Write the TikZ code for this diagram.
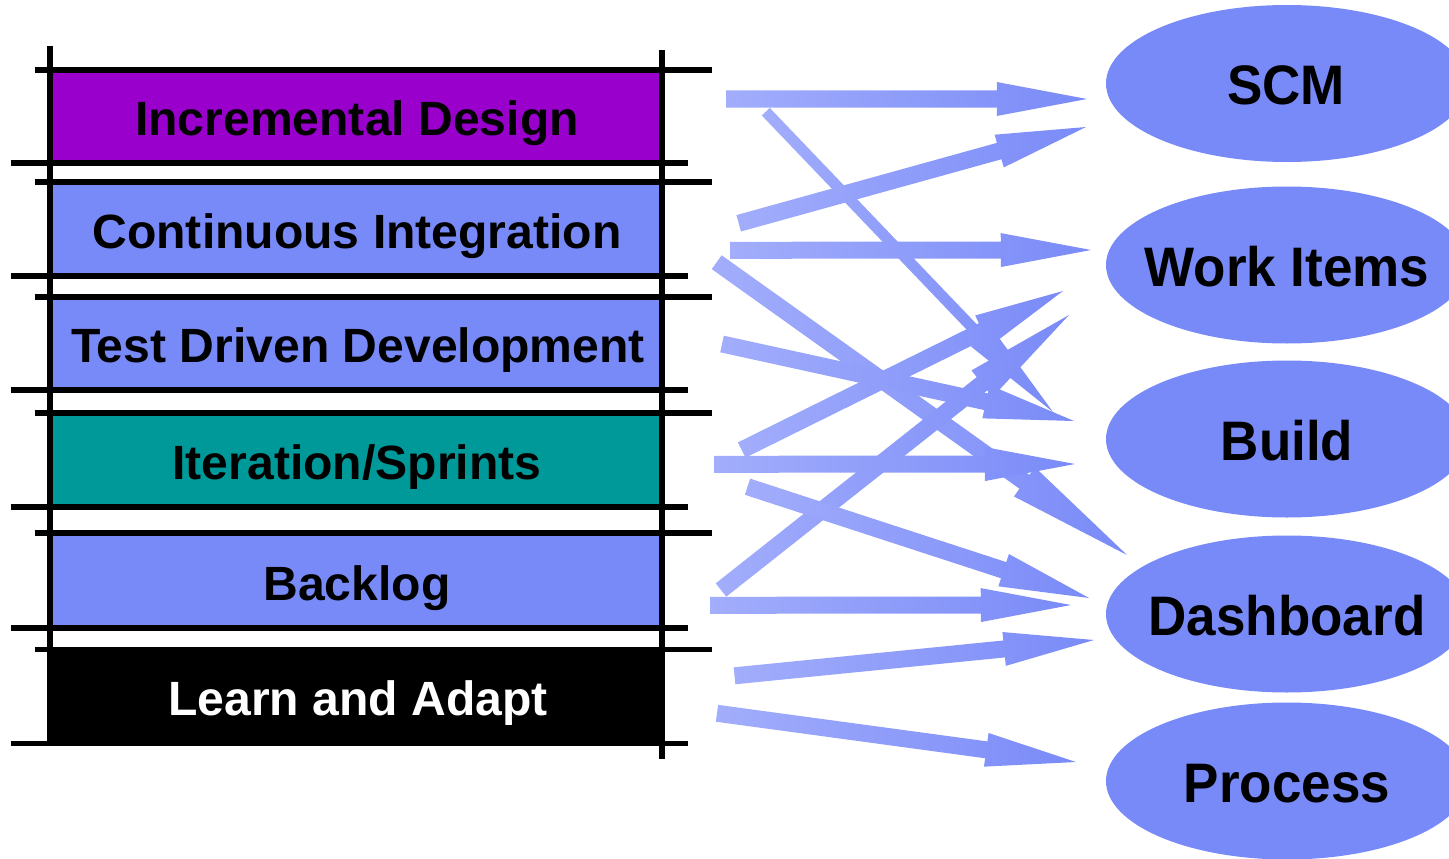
\documentclass[tikz,border=0pt]{standalone}
\usepackage{fontspec}
\usepackage{graphicx}
\setmainfont{Liberation Sans}
\usetikzlibrary{calc,shapes.geometric}
\definecolor{boxblue}{RGB}{120,138,248}
\definecolor{idpurple}{RGB}{153,0,204}
\definecolor{itteal}{RGB}{0,153,153}
\definecolor{arrlight}{RGB}{162,173,251}
\definecolor{arrdark}{RGB}{122,139,248}
\tikzset{
  rule/.style={line width=5.5pt, black},
  ltext/.style={anchor=base, inner sep=0pt, font=\fontsize{48.1pt}{50pt}\selectfont\bfseries},
  ell/.style={ellipse, fill=boxblue, minimum width=362pt, minimum height=157pt, inner sep=0pt},
  rtext/.style={anchor=base, inner sep=0pt, font=\fontsize{53pt}{55pt}\selectfont\bfseries},
  arrowfill/.style={left color=arrlight, right color=arrdark},
}
\newcommand\rlab[1]{\scalebox{1}[1.05]{#1}}
% #1 start, #2 tip, #3 shaft half width, #4 head half width
\newcommand\fatarrow[4]{%
  \coordinate (fa-h) at ($(#2)!0.25!(#1)$);
  \path[arrowfill] ($(#1)!#3!90:(#2)$) -- ($(fa-h)!#3!90:(#2)$) -- ($(fa-h)!#4!90:(#2)$)
    -- (#2) -- ($(fa-h)!#4!-90:(#2)$) -- ($(fa-h)!#3!-90:(#2)$) -- ($(#1)!#3!-90:(#2)$) -- cycle;
}
\begin{document}
\begin{tikzpicture}[x=1pt,y=-1pt]
\useasboundingbox (0,0) rectangle (1449,859);
\clip (0,0) rectangle (1449,859);

% ---- left stack: fills
\fill[idpurple] (50,70) rectangle (662,163);
\fill[boxblue] (50,182) rectangle (662,276);
\fill[boxblue] (50,297) rectangle (662,390);
\fill[itteal] (50,413) rectangle (662,507);
\fill[boxblue] (50,533) rectangle (662,628);
\fill[black] (47.5,649.5) rectangle (664.5,743.5);

% ---- rules
\foreach \t/\b in {70/163, 182/276, 297/390, 413/507, 533/628, 649.5/743.5}{
  \draw[rule] (34.5,\t) -- (712,\t);
  \draw[rule] (10.5,\b) -- (688,\b);
}
\draw[rule] (50,46) -- (50,746);
\draw[rule] (662,50) -- (662,759);

% ---- left labels
\node[ltext] (id) at (357,135) {Incremental Design};
\node[ltext] (ci) at (357,248) {Continuous Integration};
\node[ltext] (tdd) at (358,362) {Test Driven Development};
\node[ltext] (it) at (357,479) {Iteration/Sprints};
\node[ltext] (bl) at (357,600) {Backlog};
\node[ltext, text=white] (la) at (358,715) {Learn and Adapt};

% ---- right ellipses
\node[ell] (scm) at (1287,83.5) {};
\node[ell] (wi) at (1287,265) {};
\node[ell] (bu) at (1287,439) {};
\node[ell] (db) at (1287,614) {};
\node[ell] (pr) at (1287,781) {};
\node[rtext] (scmt) at ($(scm.center)+(-1,21)$) {\rlab{SCM}};
\node[rtext] (wit) at ($(wi.center)+(0,21)$) {\rlab{Work Items}};
\node[rtext] (but) at ($(bu.center)+(0,21)$) {\rlab{Build}};
\node[rtext] (dbt) at ($(db.center)+(0,21)$) {\rlab{Dashboard}};
\node[rtext] (prt) at ($(pr.center)+(0,21)$) {\rlab{Process}};

% ---- arrow end points
\coordinate (s1) at (726,99);      \coordinate (t1) at (1087,99);
\coordinate (s2) at (738.7,223.3); \coordinate (t2) at (1086,127);
\coordinate (s3) at (730,250.3);   \coordinate (t3) at (1091,250);
\coordinate (s4) at (765.8,111.7); \coordinate (t4) at (1053,412);
\coordinate (s5) at (716.7,262.2); \coordinate (t5) at (1127,555);
\coordinate (s6) at (722,344);     \coordinate (t6) at (1074,421);
\coordinate (s7) at (741.7,450);   \coordinate (t7) at (1063,291);
\coordinate (s8) at (721,590);     \coordinate (t8) at (1069,315);
\coordinate (s9) at (714,464.3);   \coordinate (t9) at (1075,464);
\coordinate (s10) at (747.5,486.7); \coordinate (t10) at (1089,598);
\coordinate (s11) at (710,605.3);  \coordinate (t11) at (1071,605);
\coordinate (s12) at (734.5,675.8); \coordinate (t12) at (1094,640);
\coordinate (s13) at (717,713.3);  \coordinate (t13) at (1076,762);

% ---- arrows
\fatarrow{s1}{t1}{8.5pt}{17pt}
\fatarrow{s2}{t2}{8.5pt}{17pt}
\fatarrow{s3}{t3}{8.5pt}{17pt}
\fatarrow{s4}{t4}{5.5pt}{14pt}
\fatarrow{s5}{t5}{8.5pt}{18pt}
\fatarrow{s6}{t6}{8.5pt}{17pt}
\fatarrow{s7}{t7}{8.5pt}{17pt}
\fatarrow{s8}{t8}{8.5pt}{17pt}
\fatarrow{s9}{t9}{8.5pt}{17pt}
\fatarrow{s10}{t10}{8.5pt}{17pt}
\fatarrow{s11}{t11}{8.5pt}{17pt}
\fatarrow{s12}{t12}{8.5pt}{17pt}
\fatarrow{s13}{t13}{8.5pt}{17pt}
\end{tikzpicture}
\end{document}
